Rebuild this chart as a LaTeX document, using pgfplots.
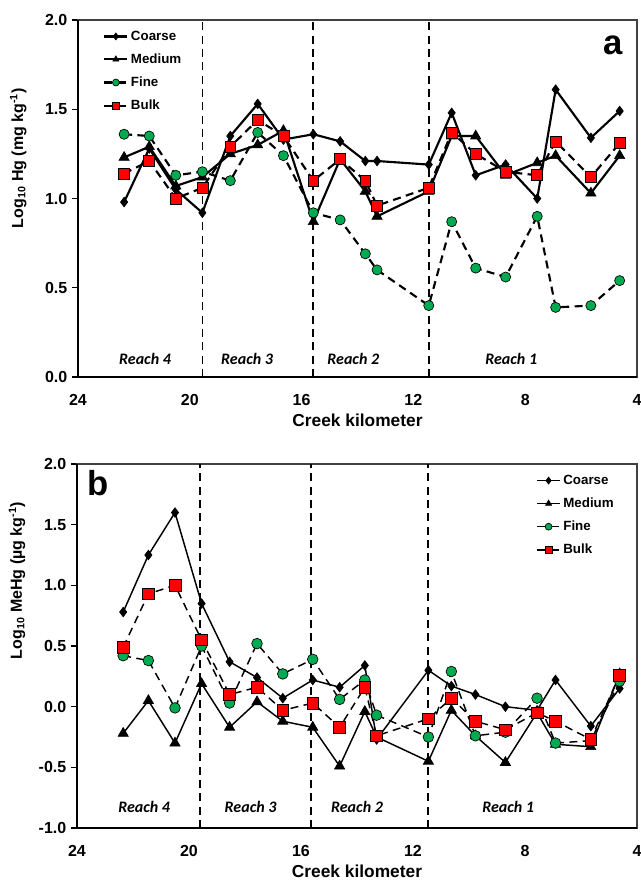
\documentclass[border=0pt]{standalone}
\usepackage{fontspec}
\setmainfont{Liberation Sans}
\newfontfamily\reachfont{Carlito}
\usepackage{pgfplots}
\usepackage{pgfplotstable}
\pgfplotsset{compat=1.18}
\definecolor{fgreen}{RGB}{0,170,80}
\definecolor{bred}{RGB}{255,0,0}

\pgfplotstableread{
x coarse medium fine bulk
22.35 0.98 1.23 1.36 1.14
21.45 1.28 1.29 1.35 1.21
20.5 1.05 1.07 1.13 1.00
19.55 0.92 1.12 1.15 1.06
18.55 1.35 1.25 1.10 1.29
17.57 1.53 1.30 1.37 1.44
16.65 1.33 1.38 1.24 1.35
15.58 1.36 0.87 0.92 1.10
14.62 1.32 1.22 0.88 1.22
13.72 1.21 1.04 0.69 1.10
13.3 1.21 0.90 0.60 0.96
11.45 1.19 1.04 0.40 1.06
10.63 1.48 1.35 0.87 1.37
9.77 1.13 1.35 0.61 1.25
8.7 1.19 1.13 0.56 1.15
7.57 1.00 1.20 0.90 1.13
6.91 1.61 1.24 0.39 1.32
5.65 1.34 1.03 0.40 1.12
4.62 1.49 1.24 0.54 1.31
}\hgdata

\pgfplotstableread{
x coarse medium fine bulk
22.35 0.78 -0.22 0.42 0.49
21.45 1.25 0.05 0.38 0.93
20.5 1.60 -0.30 -0.01 1.00
19.55 0.85 0.19 0.50 0.55
18.55 0.37 -0.17 0.03 0.10
17.57 0.24 0.04 0.52 0.16
16.65 0.07 -0.12 0.27 -0.03
15.58 0.22 -0.17 0.39 0.03
14.62 0.16 -0.49 0.06 -0.17
13.72 0.34 -0.04 0.22 0.16
13.3 -0.27 -0.25 -0.07 -0.24
11.45 0.30 -0.45 -0.25 -0.10
10.63 0.17 -0.03 0.29 0.07
9.77 0.10 -0.24 -0.24 -0.12
8.7 0.00 -0.46 -0.21 -0.19
7.57 -0.03 -0.05 0.07 -0.05
6.91 0.22 -0.31 -0.30 -0.12
5.65 -0.16 -0.33 -0.28 -0.27
4.62 0.15 0.27 0.21 0.26
}\mehgdata

\pgfplotsset{
  common/.style={
    scale only axis,
    x dir=reverse,
    xmin=4, xmax=24,
    xtick={4,8,12,16,20,24},
    /pgf/number format/assume math mode=true,
    tick label style={font=\bfseries\fontsize{12}{14}\selectfont},
    yticklabel style={/pgf/number format/.cd, fixed, precision=1, fixed zerofill},
    xticklabel style={yshift=-5pt},
    tick align=outside,
    ytick pos=left,
    xtick pos=bottom,
    x tick style={draw=none},
    major tick length=4.5pt,
    y tick style={line width=1pt, black},
    axis line style={line width=0.9pt, black!75},
    xlabel={Creek kilometer},
    xlabel style={font=\bfseries\fontsize{13}{15}\selectfont, at={(axis description cs:0.5,0)}, anchor=center, yshift=-32.5pt},
    ylabel style={font=\bfseries\fontsize{12}{14}\selectfont, anchor=center},
    legend style={draw=none, fill=none, font=\bfseries\fontsize{10}{12}\selectfont, row sep=4.6pt, inner sep=0pt},
    legend cell align=left,
    legend image post style={mark size=2.6pt},
    clip=false,
  },
  coarse/.style={black, line width=#1, mark=diamond*, mark size=3.6pt, mark options={solid, fill=black, line width=0.5pt}},
  medium/.style={black, line width=#1, mark=triangle*, mark size=4.4pt, mark options={solid, fill=black, line width=0.5pt}},
  fine/.style={black, line width=#1, dash pattern=on 6pt off 4pt, mark=*, mark size=3.8pt, mark options={solid, fill=fgreen, draw=black, line width=0.5pt}},
  bulk/.style={black, line width=#1, dash pattern=on 6pt off 4pt, mark=square*, mark size=4.1pt, mark options={solid, fill=bred, draw=black, line width=0.5pt}},
}

\begin{document}
\begin{tikzpicture}
\path[use as bounding box] (0,0) rectangle (480.75pt,-660pt);

% Panel a
\begin{axis}[common,
  at={(58.5pt,-282.75pt)}, anchor=south west,
  width=419.25pt, height=267.75pt,
  ymin=0, ymax=2, ytick={0,0.5,1,1.5,2},
  ylabel={Log\textsubscript{10} Hg (mg kg\textsuperscript{-1})},
  ylabel style={at={(axis description cs:-0.107,0.613)}},
  legend style={at={(axis description cs:0.045,0.978)}, anchor=north west},
]
\draw[line width=1.1pt, dash pattern=on 6pt off 4pt] (axis cs:19.55,0) -- (axis cs:19.55,2);
\draw[line width=1.3pt, dash pattern=on 6pt off 4pt] (axis cs:15.58,0) -- (axis cs:15.58,2);
\draw[line width=1.1pt, dash pattern=on 6pt off 4pt] (axis cs:11.45,0) -- (axis cs:11.45,2);
\addplot[coarse=1.6pt] table[x=x, y=coarse] {\hgdata};
\addlegendentry{Coarse}
\addplot[medium=1.6pt] table[x=x, y=medium] {\hgdata};
\addlegendentry{Medium}
\addplot[fine=1.6pt] table[x=x, y=fine] {\hgdata};
\addlegendentry{Fine}
\addplot[bulk=1.6pt] table[x=x, y=bulk] {\hgdata};
\addlegendentry{Bulk}
\node[font=\reachfont\bfseries\itshape\fontsize{12}{14}\selectfont] at (axis cs:21.6,0.1) {Reach 4};
\node[font=\reachfont\bfseries\itshape\fontsize{12}{14}\selectfont] at (axis cs:17.95,0.1) {Reach 3};
\node[font=\reachfont\bfseries\itshape\fontsize{12}{14}\selectfont] at (axis cs:14.15,0.1) {Reach 2};
\node[font=\reachfont\bfseries\itshape\fontsize{12}{14}\selectfont] at (axis cs:8.5,0.1) {Reach 1};
\node[font=\bfseries\fontsize{26}{28}\selectfont] at (axis cs:4.86,1.86) {a};
\draw[line width=1.6pt] (rel axis cs:0,1) -- (rel axis cs:0,0) -- (rel axis cs:1,0);
\end{axis}

% Panel b
\begin{axis}[common,
  at={(57.75pt,-621pt)}, anchor=south west,
  width=420pt, height=273pt,
  ymin=-1, ymax=2, ytick={-1,-0.5,0,0.5,1,1.5,2},
  ylabel={Log\textsubscript{10} MeHg (µg kg\textsuperscript{-1})},
  ylabel style={at={(axis description cs:-0.107,0.68)}},
  legend style={at={(axis description cs:0.82,0.978)}, anchor=north west},
]
\draw[line width=1.1pt, dash pattern=on 6pt off 4pt] (axis cs:19.6,-1) -- (axis cs:19.6,2);
\draw[line width=1.1pt, dash pattern=on 6pt off 4pt] (axis cs:15.65,-1) -- (axis cs:15.65,2);
\draw[line width=1.1pt, dash pattern=on 6pt off 4pt] (axis cs:11.47,-1) -- (axis cs:11.47,2);
\addplot[coarse=1.1pt] table[x=x, y=coarse] {\mehgdata};
\addlegendentry{Coarse}
\addplot[medium=1.1pt] table[x=x, y=medium] {\mehgdata};
\addlegendentry{Medium}
\addplot[fine=1.1pt, mark size=4pt] table[x=x, y=fine] {\mehgdata};
\addlegendentry{Fine}
\addplot[bulk=1.1pt, mark size=4.4pt] table[x=x, y=bulk] {\mehgdata};
\addlegendentry{Bulk}
\node[font=\reachfont\bfseries\itshape\fontsize{12}{14}\selectfont] at (axis cs:21.6,-0.83) {Reach 4};
\node[font=\reachfont\bfseries\itshape\fontsize{12}{14}\selectfont] at (axis cs:17.8,-0.83) {Reach 3};
\node[font=\reachfont\bfseries\itshape\fontsize{12}{14}\selectfont] at (axis cs:14.0,-0.83) {Reach 2};
\node[font=\reachfont\bfseries\itshape\fontsize{12}{14}\selectfont] at (axis cs:8.6,-0.83) {Reach 1};
\node[font=\bfseries\fontsize{26}{28}\selectfont] at (axis cs:23.25,1.84) {b};
\draw[line width=1.6pt] (rel axis cs:0,1) -- (rel axis cs:0,0) -- (rel axis cs:1,0);
\end{axis}
\end{tikzpicture}
\end{document}
